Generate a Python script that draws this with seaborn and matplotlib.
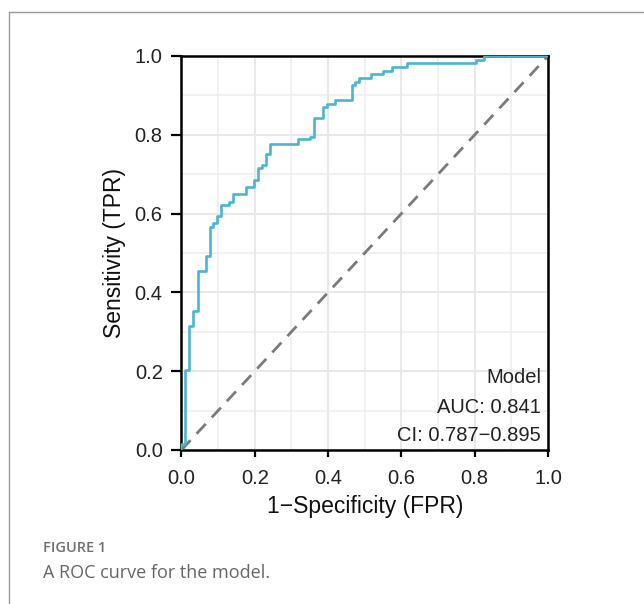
import matplotlib
matplotlib.use("Agg")
import matplotlib.pyplot as plt
import seaborn as sns
import pandas as pd
from matplotlib.lines import Line2D
from matplotlib.ticker import MultipleLocator

# ROC points (top of each vertical jump)
fpr = [0.0, 0.0, 0.010, 0.021, 0.032, 0.044, 0.066, 0.078, 0.087, 0.098, 0.108,
       0.130, 0.141, 0.176, 0.198, 0.208, 0.219, 0.231, 0.241, 0.319, 0.351,
       0.362, 0.385, 0.396, 0.419, 0.464, 0.473, 0.485, 0.516, 0.549, 0.573,
       0.616, 0.804, 0.825, 1.0]
tpr = [0.0, 0.015, 0.203, 0.315, 0.353, 0.454, 0.492, 0.565, 0.575, 0.594, 0.622,
       0.630, 0.649, 0.668, 0.685, 0.715, 0.723, 0.750, 0.777, 0.789, 0.795,
       0.842, 0.870, 0.878, 0.888, 0.926, 0.935, 0.945, 0.954, 0.962, 0.971,
       0.981, 0.990, 1.0, 1.0]
diag = [0.0, 1.0]
ticks = [0.0, 0.2, 0.4, 0.6, 0.8, 1.0]
tick_labels = ["0.0", "0.2", "0.4", "0.6", "0.8", "1.0"]
annot_lines = ["Model", "AUC: 0.841", "CI: 0.787\u22120.895"]

sns.set_theme(style="white")
plt.rcParams["font.family"] = ["Liberation Sans", "DejaVu Sans"]

fig = plt.figure(figsize=(6.44, 6.04), dpi=100)
ax = fig.add_axes([0.2818, 0.2550, 0.851 - 0.2818, 0.9073 - 0.2550])

df = pd.DataFrame({"fpr": fpr, "tpr": tpr})
ddf = pd.DataFrame({"x": diag, "y": diag})

sns.lineplot(data=ddf, x="x", y="y", ax=ax, color="#7A7A7A", lw=2.0,
             dashes=False, linestyle=(0, (4.8, 3.2)), estimator=None, sort=False,
             zorder=2)
sns.lineplot(data=df, x="fpr", y="tpr", ax=ax, color="#4BB4CE", lw=1.9,
             drawstyle="steps-post", estimator=None, sort=False, zorder=3)

ax.set_xlim(0, 1)
ax.set_ylim(0, 1)
ax.set_xticks(ticks)
ax.set_xticklabels(tick_labels)
ax.set_yticks(ticks)
ax.set_yticklabels(tick_labels)
ax.xaxis.set_minor_locator(MultipleLocator(0.1))
ax.yaxis.set_minor_locator(MultipleLocator(0.1))
ax.grid(which="major", color="#E8E8E8", lw=1.5, zorder=0)
ax.grid(which="minor", color="#EDEDED", lw=1.1, zorder=0)
ax.set_axisbelow(True)
ax.tick_params(which="major", direction="out", width=1.6,
               color="black", labelsize=14.5, labelcolor="#222222",
               bottom=True, left=True)
ax.tick_params(axis="x", length=5, pad=8.5)
ax.tick_params(axis="y", length=7, pad=6.5)
ax.tick_params(which="minor", length=0)
for s in ax.spines.values():
    s.set_color("black")
    s.set_linewidth(1.8)

ax.set_xlabel("1\u2212Specificity (FPR)", fontsize=16.5, color="#111111", labelpad=5)
ax.set_ylabel("Sensitivity (TPR)", fontsize=16.5, color="#111111", labelpad=6.5)

ys = [0.183, 0.109, 0.038]
for t, yv in zip(annot_lines, ys):
    ax.text(0.981, yv, t, ha="right", va="center", fontsize=14.5,
            color="#222222", transform=ax.transAxes)

# journal frame
fig.add_artist(Line2D([9 / 644, 9 / 644], [0, 1 - 11.5 / 604],
                      transform=fig.transFigure, color="#9A9A9A", lw=1.0))
fig.add_artist(Line2D([9 / 644, 1], [1 - 11.5 / 604, 1 - 11.5 / 604],
                      transform=fig.transFigure, color="#9A9A9A", lw=1.0))

fig.text(43 / 644, 1 - 548 / 604, "FIGURE 1", fontsize=10.5, color="#707070",
         fontweight="semibold", family=["Open Sans", "DejaVu Sans"],
         ha="left", va="center")
fig.text(43 / 644, 1 - 573 / 604, "A ROC curve for the model.", fontsize=13,
         color="#666666", family=["Open Sans", "DejaVu Sans"],
         ha="left", va="center")

fig.savefig("out.png", dpi=100)
